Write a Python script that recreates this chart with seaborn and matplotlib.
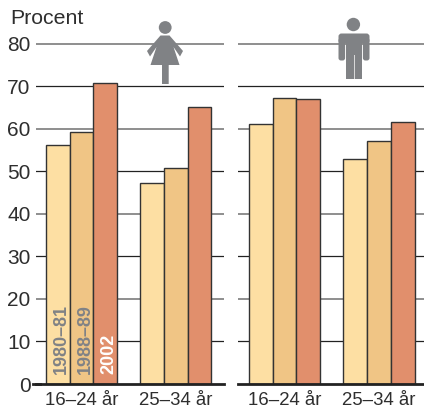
import matplotlib
matplotlib.use('Agg')
import matplotlib.pyplot as plt
import seaborn as sns
import pandas as pd
from matplotlib.patches import Circle, Polygon, FancyBboxPatch, Rectangle
from matplotlib.transforms import Affine2D

# values
age_groups = ['16–24 år', '25–34 år']
periods = ['1980–81', '1988–89', '2002']
women_young = [56.2, 59.2, 70.7]
women_old = [47.2, 50.8, 65.0]
men_young = [61.1, 67.1, 67.0]
men_old = [52.9, 57.1, 61.5]
y_ticks = [0, 10, 20, 30, 40, 50, 60, 70, 80]

bar_colors = ['#FDDFA3', '#F0C585', '#E18F6C']
label_colors = ['#808285', '#808285', '#FFFFFF']
text_color = '#2E2E2E'
icon_color = '#808285'

W, H = 424, 409


def make_df(young, old):
    rows = []
    for i, p in enumerate(periods):
        rows.append({'age': age_groups[0], 'period': p, 'value': young[i]})
        rows.append({'age': age_groups[1], 'period': p, 'value': old[i]})
    return pd.DataFrame(rows)


def draw_panel(ax, df):
    sns.barplot(data=df, x='age', y='value', hue='period', order=age_groups, hue_order=periods,
                palette=bar_colors, width=0.755, gap=0, edgecolor='#333333', linewidth=1.0,
                saturation=1, legend=False, ax=ax, zorder=3)
    ax.set_ylim(0, 80.3)
    ax.set_yticks(y_ticks)
    ax.set_xlabel('')
    ax.set_ylabel('')
    for s in ['top', 'right', 'left']:
        ax.spines[s].set_visible(False)
    ax.spines['bottom'].set_linewidth(2.0)
    ax.spines['bottom'].set_color('#222222')
    ax.spines['bottom'].set_zorder(5)
    ax.tick_params(axis='x', length=0, labelsize=13.4, labelcolor=text_color, pad=6)
    ax.tick_params(axis='y', length=0, labelsize=15, labelcolor=text_color, pad=4)
    # gridlines come out alternately dark and grey in the original
    for v in y_ticks[1:]:
        dark = v % 20 != 0
        ax.axhline(v, color='#222222' if dark else '#707070', lw=0.9 if dark else 1.1, zorder=1)


plt.rcParams['font.family'] = ['Liberation Sans', 'DejaVu Sans']
fig = plt.figure(figsize=(4.24, 4.09), dpi=100)
y0, y80 = 384, 43.5
h = (y0 - y80) * 80.3 / 80

ax1 = fig.add_axes([36 / W, 1 - y0 / H, (224 - 36) / W, h / H])
draw_panel(ax1, make_df(women_young, women_old))
ax1.set_xlim(-0.4825, 1.511)
# baseline sticks out a little towards the 0 label
ax1.axhline(0, xmin=-0.016, xmax=0.02, color='#222222', lw=2.0, clip_on=False, zorder=5)

ax2 = fig.add_axes([238 / W, 1 - y0 / H, (424 - 238) / W, h / H])
draw_panel(ax2, make_df(men_young, men_old))
ax2.set_xlim(-0.493, 1.476)
ax2.tick_params(axis='y', labelleft=False)

# period names inside the first group of bars
for i, p in enumerate(periods):
    bar = ax1.containers[i][0]
    ax1.text(bar.get_x() + bar.get_width() / 2 + 0.04, 2.4, p, rotation=90, ha='center', va='bottom',
             color=label_colors[i], fontsize=13.0, fontweight='bold', zorder=6)

fig.text(10 / W, 1 - 24 / H, 'Procent', fontsize=15.3, color=text_color, va='baseline')

# figure icons, placed in pixels from the top left
px = Affine2D().scale(1 / W, -1 / H).translate(0, 1) + fig.transFigure


def add(patch, color=icon_color):
    patch.set_transform(px)
    patch.set_facecolor(color)
    patch.set_edgecolor('none')
    patch.set_zorder(8)
    fig.add_artist(patch)


# woman
add(Circle((165.2, 27.5), 6.4))
add(Polygon([(160.5, 35.5), (169.5, 35.5), (183, 51), (180, 56.5), (173.5, 47), (179.5, 65),
             (168.7, 65), (168.7, 84), (162, 84), (162, 65), (150.5, 65), (156.5, 47),
             (150, 56.5), (147, 51)], closed=True))
# man
add(Circle((353.4, 24.5), 6.7))
add(FancyBboxPatch((338.5, 33.5), 31, 10, boxstyle='round,pad=0,rounding_size=3'))
add(FancyBboxPatch((338.5, 38), 6.6, 22.5, boxstyle='round,pad=0,rounding_size=2.5'))
add(FancyBboxPatch((362.9, 38), 6.6, 22.5, boxstyle='round,pad=0,rounding_size=2.5'))
add(Rectangle((346, 38), 16, 41))
add(Rectangle((353.6, 55), 1.0, 24), '#D8D8D8')

fig.savefig('out.png', dpi=100)
